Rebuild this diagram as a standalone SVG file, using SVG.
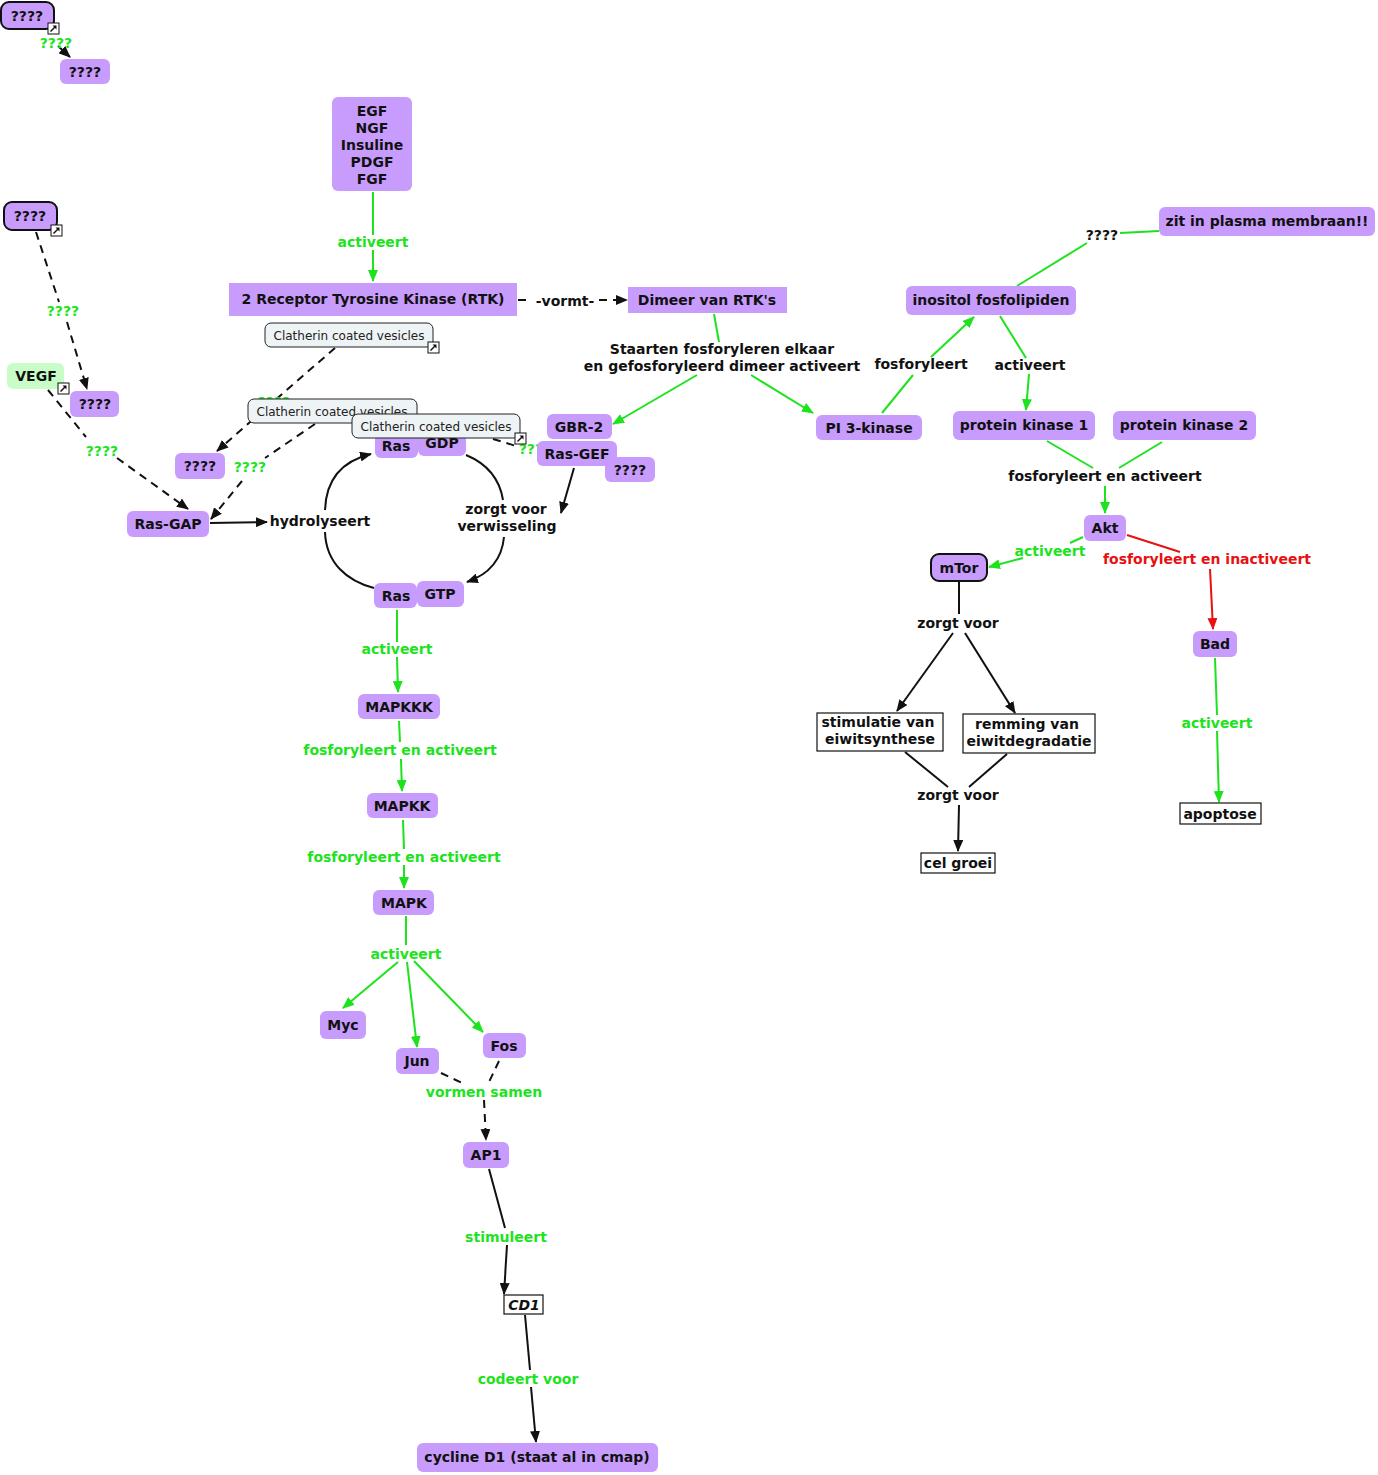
<svg xmlns="http://www.w3.org/2000/svg" xmlns:xlink="http://www.w3.org/1999/xlink" width="1378" height="1475" viewBox="0 0 1378 1475">
<style>
text{font-family:"DejaVu Sans",Verdana,sans-serif;font-weight:bold;font-size:14px;text-anchor:middle;fill:#111}
.p rect{fill:#C89CFC}
.bk rect{stroke:#111;stroke-width:2}
.w rect{fill:#fff;stroke:#111;stroke-width:1.2}
.c rect{fill:#EEF3F5;stroke:#222;stroke-width:1}
.c text{font-weight:normal;font-size:12px;fill:#222}
.g{fill:#1CE31C}
.r{fill:#E81010}
.lg line,.lg path{stroke:#1CE31C;stroke-width:2;fill:none}
.lb line,.lb path{stroke:#111;stroke-width:2;fill:none}
.lr line{stroke:#E81010;stroke-width:2;fill:none}
.d{stroke-dasharray:8,6}
</style>
<defs>
<marker id="ab" viewBox="0 0 12 10" refX="11" refY="5" markerWidth="12" markerHeight="10" orient="auto" markerUnits="userSpaceOnUse"><path d="M0,0 L12,5 L0,10 z" fill="#111"/></marker>
<marker id="ag" viewBox="0 0 12 10" refX="11" refY="5" markerWidth="12" markerHeight="10" orient="auto" markerUnits="userSpaceOnUse"><path d="M0,0 L12,5 L0,10 z" fill="#1CE31C"/></marker>
<marker id="ar" viewBox="0 0 12 10" refX="11" refY="5" markerWidth="12" markerHeight="10" orient="auto" markerUnits="userSpaceOnUse"><path d="M0,0 L12,5 L0,10 z" fill="#E81010"/></marker>
<g id="lnk"><rect x="0" y="0" width="11" height="11" fill="#fff" stroke="#111" stroke-width="1"/><path d="M2.5,8.5 L7,4" stroke="#111" stroke-width="1.4"/><path d="M4.5,2.5 L8.5,2.5 L8.5,6.5 z" fill="#111"/></g>
</defs>

<g id="connectors">
 <g class="lb">
  <line x1="58" y1="46" x2="70" y2="57" marker-end="url(#ab)"/>
  <line class="d" x1="36" y1="232" x2="59" y2="302"/>
  <line class="d" x1="67" y1="322" x2="87" y2="389" marker-end="url(#ab)"/>
  <line class="d" x1="48" y1="390" x2="86" y2="437"/>
  <line class="d" x1="117" y1="458" x2="188" y2="509" marker-end="url(#ab)"/>
  <line class="d" x1="335" y1="348" x2="274" y2="401"/>
  <line class="d" x1="274" y1="401" x2="217" y2="451" marker-end="url(#ab)"/>
  <line class="d" x1="315" y1="424" x2="265" y2="458"/>
  <line class="d" x1="242" y1="481" x2="211" y2="519" marker-end="url(#ab)"/>
  <line class="d" x1="493" y1="439" x2="516" y2="446"/>
  <line class="d" x1="518" y1="300" x2="532" y2="300"/>
  <line class="d" x1="599" y1="300" x2="627" y2="300" marker-end="url(#ab)"/>
  <line x1="210" y1="523" x2="267" y2="522" marker-end="url(#ab)"/>
  <line x1="574" y1="468" x2="561" y2="513" marker-end="url(#ab)"/>
  <path d="M374,588 C347,581 326,563 325,532"/>
  <path d="M325,510 C326,480 342,461 371,454" marker-end="url(#ab)"/>
  <path d="M466,455 C490,465 500,481 503,500"/>
  <path d="M504,537 C502,558 490,574 467,582" marker-end="url(#ab)"/>
  <line x1="959" y1="582" x2="959" y2="614"/>
  <line x1="953" y1="633" x2="897" y2="711" marker-end="url(#ab)"/>
  <line x1="965" y1="633" x2="1015" y2="713" marker-end="url(#ab)"/>
  <line x1="905" y1="752" x2="948" y2="787"/>
  <line x1="1007" y1="754" x2="969" y2="787"/>
  <line x1="959" y1="805" x2="958" y2="851" marker-end="url(#ab)"/>
  <line class="d" x1="441" y1="1073" x2="462" y2="1083"/>
  <line class="d" x1="499" y1="1061" x2="489" y2="1082"/>
  <line class="d" x1="484" y1="1100" x2="486" y2="1140" marker-end="url(#ab)"/>
  <line x1="489" y1="1169" x2="505" y2="1228"/>
  <line x1="507" y1="1245" x2="504" y2="1294" marker-end="url(#ab)"/>
  <line x1="525" y1="1315" x2="530" y2="1370"/>
  <line x1="531" y1="1387" x2="536" y2="1442" marker-end="url(#ab)"/>
 </g>
 <g class="lg">
  <line x1="373" y1="192" x2="373" y2="235"/>
  <line x1="373" y1="250" x2="373" y2="281" marker-end="url(#ag)"/>
  <line x1="714" y1="314" x2="719" y2="342"/>
  <line x1="697" y1="375" x2="613" y2="424" marker-end="url(#ag)"/>
  <line x1="751" y1="375" x2="813" y2="413" marker-end="url(#ag)"/>
  <line x1="882" y1="413" x2="913" y2="375"/>
  <line x1="931" y1="357" x2="974" y2="317" marker-end="url(#ag)"/>
  <line x1="1017" y1="286" x2="1087" y2="243"/>
  <line x1="1120" y1="233" x2="1159" y2="231"/>
  <line x1="1000" y1="316" x2="1026" y2="358"/>
  <line x1="1029" y1="374" x2="1026" y2="410" marker-end="url(#ag)"/>
  <line x1="1047" y1="441" x2="1093" y2="468"/>
  <line x1="1162" y1="442" x2="1119" y2="468"/>
  <line x1="1105" y1="486" x2="1105" y2="513" marker-end="url(#ag)"/>
  <line x1="1083" y1="537" x2="1070" y2="543"/>
  <line x1="1023" y1="558" x2="989" y2="567" marker-end="url(#ag)"/>
  <line x1="1215" y1="658" x2="1217" y2="715"/>
  <line x1="1217" y1="731" x2="1219" y2="802" marker-end="url(#ag)"/>
  <line x1="397" y1="610" x2="397" y2="642"/>
  <line x1="397" y1="657" x2="398" y2="692" marker-end="url(#ag)"/>
  <line x1="399" y1="721" x2="400" y2="742"/>
  <line x1="401" y1="759" x2="402" y2="791" marker-end="url(#ag)"/>
  <line x1="403" y1="820" x2="404" y2="849"/>
  <line x1="404" y1="865" x2="404" y2="888" marker-end="url(#ag)"/>
  <line x1="406" y1="916" x2="406" y2="945"/>
  <line x1="398" y1="962" x2="343" y2="1008" marker-end="url(#ag)"/>
  <line x1="407" y1="962" x2="417" y2="1047" marker-end="url(#ag)"/>
  <line x1="414" y1="961" x2="483" y2="1032" marker-end="url(#ag)"/>
 </g>
 <g class="lr">
  <line x1="1127" y1="535" x2="1180" y2="552"/>
  <line x1="1210" y1="569" x2="1213" y2="629" marker-end="url(#ar)"/>
 </g>
</g>

<g id="labels">
 <text class="g" x="56" y="48">????</text>
 <text class="g" x="63" y="316">????</text>
 <text class="g" x="102" y="456">????</text>
 <text class="g" x="250" y="472">????</text>
 <text class="g" x="274" y="407">????</text>
 <text class="g" x="535" y="454">????</text>
 <text x="320" y="526">hydrolyseert</text>
 <text x="506" y="514">zorgt voor</text>
 <text x="507" y="531">verwisseling</text>
 <text class="g" x="373" y="247">activeert</text>
 <text x="565" y="306">-vormt-</text>
 <text x="722" y="354">Staarten fosforyleren elkaar</text>
 <text x="722" y="371">en gefosforyleerd dimeer activeert</text>
 <text x="921" y="369">fosforyleert</text>
 <text x="1030" y="370">activeert</text>
 <text x="1102" y="240">????</text>
 <text x="1105" y="481">fosforyleert en activeert</text>
 <text class="g" x="1050" y="556">activeert</text>
 <text class="r" x="1207" y="564">fosforyleert en inactiveert</text>
 <text class="g" x="1217" y="728">activeert</text>
 <text x="958" y="628">zorgt voor</text>
 <text x="958" y="800">zorgt voor</text>
 <text class="g" x="397" y="654">activeert</text>
 <text class="g" x="400" y="755">fosforyleert en activeert</text>
 <text class="g" x="404" y="862">fosforyleert en activeert</text>
 <text class="g" x="406" y="959">activeert</text>
 <text class="g" x="484" y="1097">vormen samen</text>
 <text class="g" x="506" y="1242">stimuleert</text>
 <text class="g" x="528" y="1384">codeert voor</text>
</g>

<g id="q1" class="p bk"><rect x="1" y="2" width="53" height="27" rx="8"/><text x="27" y="21">????</text><use xlink:href="#lnk" x="48" y="23"/></g>
<g id="q2" class="p"><rect x="60" y="59" width="50" height="25" rx="6"/><text x="85" y="77">????</text></g>
<g id="q3" class="p bk"><rect x="4" y="202" width="53" height="28" rx="8"/><text x="30" y="221">????</text><use xlink:href="#lnk" x="51" y="225"/></g>
<g id="vegf"><rect x="7" y="363" width="57" height="26" rx="6" fill="#C8FDC8"/><text x="36" y="381">VEGF</text><use xlink:href="#lnk" x="58" y="383"/></g>
<g id="q4" class="p"><rect x="70" y="391" width="49" height="26" rx="6"/><text x="95" y="409">????</text></g>
<g id="rasgap" class="p"><rect x="127" y="511" width="82" height="26" rx="6"/><text x="168" y="529">Ras-GAP</text></g>
<g id="q5" class="p"><rect x="175" y="453" width="50" height="26" rx="6"/><text x="200" y="471">????</text></g>
<g id="egf" class="p"><rect x="332" y="97" width="80" height="94" rx="6"/><text x="372" y="116">EGF</text><text x="372" y="133">NGF</text><text x="372" y="150">Insuline</text><text x="372" y="167">PDGF</text><text x="372" y="184">FGF</text></g>
<g id="rtk" class="p"><rect x="229" y="283" width="288" height="33"/><text x="373" y="304">2 Receptor Tyrosine Kinase (RTK)</text></g>
<g id="dimeer" class="p"><rect x="628" y="287" width="159" height="26"/><text x="707" y="305">Dimeer van RTK's</text></g>
<g id="gbr2" class="p"><rect x="547" y="414" width="65" height="25" rx="6"/><text x="579" y="432">GBR-2</text></g>
<g id="q6" class="p"><rect x="605" y="457" width="50" height="25" rx="6"/><text x="630" y="475">????</text></g>
<g id="rasgef" class="p"><rect x="537" y="441" width="80" height="25" rx="6"/><text x="577" y="459">Ras-GEF</text></g>
<g id="ras1" class="p"><rect x="375" y="432" width="43" height="26" rx="6"/><text x="396" y="451">Ras</text></g>
<g id="gdp" class="p"><rect x="418" y="430" width="48" height="26" rx="6"/><text x="442" y="448">GDP</text></g>
<g id="ras2" class="p"><rect x="374" y="583" width="43" height="25" rx="6"/><text x="396" y="601">Ras</text></g>
<g id="gtp" class="p"><rect x="417" y="581" width="47" height="26" rx="6"/><text x="440" y="599">GTP</text></g>
<g id="mapkkk" class="p"><rect x="358" y="694" width="82" height="25" rx="6"/><text x="399" y="712">MAPKKK</text></g>
<g id="mapkk" class="p"><rect x="367" y="793" width="71" height="25" rx="6"/><text x="402" y="811">MAPKK</text></g>
<g id="mapk" class="p"><rect x="373" y="890" width="61" height="25" rx="6"/><text x="404" y="908">MAPK</text></g>
<g id="myc" class="p"><rect x="320" y="1011" width="46" height="28" rx="6"/><text x="343" y="1030">Myc</text></g>
<g id="jun" class="p"><rect x="396" y="1048" width="43" height="26" rx="6"/><text x="417" y="1066">Jun</text></g>
<g id="fos" class="p"><rect x="483" y="1033" width="43" height="25" rx="6"/><text x="504" y="1051">Fos</text></g>
<g id="ap1" class="p"><rect x="463" y="1142" width="46" height="26" rx="6"/><text x="486" y="1160">AP1</text></g>
<g id="cd1" class="w"><rect x="504" y="1295" width="39" height="19"/><text x="524" y="1310" font-style="italic">CD1</text></g>
<g id="cycline" class="p"><rect x="417" y="1443" width="241" height="29" rx="6"/><text x="537" y="1462">cycline D1 (staat al in cmap)</text></g>
<g id="pi3k" class="p"><rect x="816" y="415" width="106" height="25" rx="6"/><text x="869" y="433">PI 3-kinase</text></g>
<g id="inositol" class="p"><rect x="906" y="286" width="170" height="29" rx="6"/><text x="991" y="305">inositol fosfolipiden</text></g>
<g id="zit" class="p"><rect x="1159" y="207" width="216" height="29" rx="6"/><text x="1267" y="226">zit in plasma membraan!!</text></g>
<g id="pk1" class="p"><rect x="953" y="411" width="142" height="29" rx="6"/><text x="1024" y="430">protein kinase 1</text></g>
<g id="pk2" class="p"><rect x="1113" y="411" width="143" height="29" rx="6"/><text x="1184" y="430">protein kinase 2</text></g>
<g id="akt" class="p"><rect x="1084" y="515" width="42" height="26" rx="6"/><text x="1105" y="533">Akt</text></g>
<g id="mtor" class="p bk"><rect x="931" y="554" width="56" height="27" rx="8"/><text x="959" y="573">mTor</text></g>
<g id="bad" class="p"><rect x="1193" y="631" width="44" height="26" rx="6"/><text x="1215" y="649">Bad</text></g>
<g id="apoptose" class="w"><rect x="1180" y="803" width="81" height="21"/><text x="1220" y="819">apoptose</text></g>
<g id="stim" class="w"><rect x="817" y="713" width="126" height="38"/><text x="878" y="727">stimulatie van</text><text x="880" y="744">eiwitsynthese</text></g>
<g id="remm" class="w"><rect x="963" y="714" width="132" height="39"/><text x="1027" y="729">remming van</text><text x="1029" y="746">eiwitdegradatie</text></g>
<g id="celgroei" class="w"><rect x="921" y="853" width="74" height="20"/><text x="958" y="868">cel groei</text></g>
<g id="clat1" class="c"><rect x="265" y="323" width="168" height="24" rx="6"/><text x="349" y="340">Clatherin coated vesicles</text><use xlink:href="#lnk" x="428" y="342"/></g>
<g id="clat2" class="c"><rect x="248" y="399" width="169" height="24" rx="6"/><text x="332" y="416">Clatherin coated vesicles</text></g>
<g id="clat3" class="c"><rect x="352" y="414" width="168" height="24" rx="6"/><text x="436" y="431">Clatherin coated vesicles</text><use xlink:href="#lnk" x="515" y="433"/></g>
</svg>
